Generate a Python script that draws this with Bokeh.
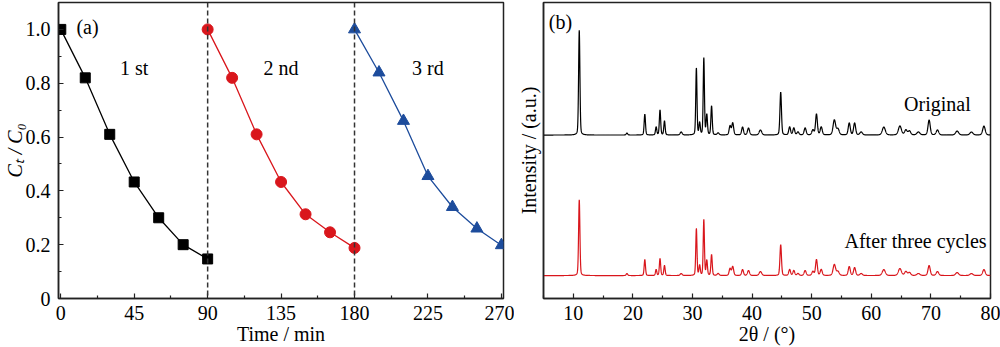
import numpy as np
from bokeh.plotting import figure
from bokeh.layouts import row
from bokeh.models import Range1d, FixedTicker, Label, Span
from bokeh.embed import file_html
from bokeh.resources import INLINE

# ---------------- data: panel (a) ----------------
t1 = [0, 15, 30, 45, 60, 75, 90]
c1 = [1.0, 0.82, 0.61, 0.433, 0.30, 0.20, 0.147]
t2 = [90, 105, 120, 135, 150, 165, 180]
c2 = [1.0, 0.82, 0.61, 0.433, 0.313, 0.246, 0.188]
t3 = [180, 195, 210, 225, 240, 255, 270]
c3 = [1.0, 0.84, 0.66, 0.455, 0.34, 0.26, 0.198]
cycle_bounds = [90, 180]
cycle_names = ["1 st", "2 nd", "3 rd"]
cycle_name_x = [45, 135, 225]
a_xticks = [0, 45, 90, 135, 180, 225, 270]
a_xminor = [22.5, 67.5, 112.5, 157.5, 202.5, 247.5]
a_yticks = [0, 0.2, 0.4, 0.6, 0.8, 1.0]
a_ylabels = ["0", "0.2", "0.4", "0.6", "0.8", "1.0"]
a_yminor = [0.1, 0.3, 0.5, 0.7, 0.9]

# ---------------- data: panel (b) XRD peaks ----------------
peak_pos = [11.0, 19.0, 22.0, 23.9, 24.55, 25.3, 28.1, 30.65, 31.2, 31.9, 32.4, 33.2, 34.3,
            36.3, 36.75, 38.4, 39.4, 41.4, 44.8, 46.3, 47.0, 47.7, 48.9, 50.2, 50.8, 51.6,
            53.8, 54.4, 56.3, 57.2, 58.3, 62.1, 64.8, 65.8, 66.4, 67.9, 69.7, 71.1, 74.4,
            76.8, 78.9]
orig_h = [105, 2, 21, 8, 25, 14, 3, 67, 12, 77, 20, 29, 2,
          9, 12, 8, 7, 5, 43, 8, 7, 3, 7, 5, 21, 8,
          15, 6, 12, 12, 3, 8, 9, 5, 4, 3, 15, 5, 4,
          3, 9]
after_h = [76, 2, 16, 6, 17, 10, 2, 47, 10, 56, 15, 21, 2,
           7, 9, 6, 5, 4, 31, 6, 5, 2, 5, 4, 16, 6,
           11, 4, 9, 8, 2, 6, 7, 4, 3, 2, 10, 4, 3,
           2, 6]
peak_w = [0.13, 0.15, 0.13, 0.13, 0.13, 0.13, 0.2, 0.12, 0.13, 0.12, 0.13, 0.13, 0.2,
          0.18, 0.18, 0.18, 0.2, 0.25, 0.15, 0.18, 0.18, 0.2, 0.2, 0.2, 0.18, 0.2,
          0.25, 0.25, 0.2, 0.2, 0.25, 0.3, 0.3, 0.25, 0.25, 0.3, 0.22, 0.25, 0.3,
          0.3, 0.25]
orig_offset = 164
after_offset = 23
b_xticks = [10, 20, 30, 40, 50, 60, 70, 80]
b_xminor = [5, 15, 25, 35, 45, 55, 65, 75]

FONT = "Liberation Serif"
FS = "20px"
RED = "#d9161c"
BLUE = "#1d4c9c"
AX = "#222222"


def profile(x, pos, h, w, offset):
    y = np.full_like(x, float(offset))
    for p, a, hw in zip(pos, h, w):
        d = (x - p) / hw
        y += a * (0.75 * np.exp(-np.log(2) * d * d) + 0.25 / (1 + d * d))
    return y


def style(p):
    p.xgrid.visible = False
    p.ygrid.visible = False
    p.outline_line_color = AX
    p.outline_line_width = 1.5
    p.background_fill_color = "white"
    p.border_fill_color = "white"
    for ax in (p.xaxis[0], p.yaxis[0]):
        ax.axis_line_color = AX
        ax.axis_line_width = 1.5
        ax.major_tick_in = 5
        ax.major_tick_out = 0
        ax.minor_tick_in = 3
        ax.minor_tick_out = 0
        ax.major_tick_line_color = AX
        ax.minor_tick_line_color = AX
        ax.major_tick_line_width = 1.2
        ax.minor_tick_line_width = 1.2
        ax.major_label_text_font = FONT
        ax.major_label_text_font_size = FS
        ax.major_label_text_color = "black"
        ax.axis_label_text_font = FONT
        ax.axis_label_text_font_size = FS
        ax.axis_label_text_font_style = "normal"
        ax.axis_label_text_color = "black"


def lab(p, text, x, y, style_="normal", align="left", baseline="alphabetic", color="black"):
    p.add_layout(Label(x=x, y=y, text=text, text_font=FONT, text_font_size=FS,
                       text_font_style=style_, text_align=align, text_baseline=baseline,
                       text_color=color))


# ---------------- panel (a) ----------------
pa = figure(width=514, height=347, x_range=Range1d(-1.4, 271.3), y_range=Range1d(0, 1.1),
            output_backend="svg", toolbar_location=None,
            min_border_left=58, min_border_right=11, min_border_top=1, min_border_bottom=49)
style(pa)
pa.xaxis[0].ticker = FixedTicker(ticks=a_xticks, minor_ticks=a_xminor)
pa.yaxis[0].ticker = FixedTicker(ticks=a_yticks, minor_ticks=a_yminor)
pa.yaxis[0].major_label_overrides = {t: s for t, s in zip(a_yticks, a_ylabels)}
pa.xaxis[0].major_label_standoff = 7
pa.yaxis[0].major_label_standoff = 8
pa.xaxis[0].axis_label = "Time / min"
pa.xaxis[0].axis_label_text_line_height = 0.8
pa.xaxis[0].axis_label_standoff = 0
pa.yaxis[0].axis_label = "Cₜ / C₀"
pa.yaxis[0].axis_label_text_font_style = "italic"
pa.yaxis[0].axis_label_standoff = -3

for b in cycle_bounds:
    pa.add_layout(Span(location=b, dimension="height", line_color="#333333",
                       line_dash="5 3", line_width=1.5))

pa.line(t1, c1, line_color="black", line_width=1.3)
pa.scatter(t1, c1, marker="square", size=10, fill_color="black", line_color="black")
pa.line(t2, c2, line_color=RED, line_width=1.3)
pa.scatter(t2, c2, marker="circle", size=11, fill_color=RED, line_color=RED)
pa.line(t3, c3, line_color=BLUE, line_width=1.3)
pa.scatter(t3, c3, marker="triangle", size=12, fill_color=BLUE, line_color=BLUE)

for nx, nm in zip(cycle_name_x, cycle_names):
    lab(pa, nm, nx, 0.855, align="center")
lab(pa, "(a)", 9.6, 1.01)

# ---------------- panel (b) ----------------
pb = figure(width=486, height=347, x_range=Range1d(5, 80), y_range=Range1d(0, 297),
            output_backend="svg", toolbar_location=None,
            min_border_left=29, min_border_right=10, min_border_top=2, min_border_bottom=48)
style(pb)
pb.xaxis[0].ticker = FixedTicker(ticks=b_xticks, minor_ticks=b_xminor)
pb.yaxis[0].ticker = FixedTicker(ticks=[], minor_ticks=[])
pb.yaxis[0].major_label_text_font_size = "0px"
pb.yaxis[0].major_label_standoff = 0
pb.xaxis[0].major_label_standoff = 7
pb.xaxis[0].axis_label = "2θ / (°)"
pb.xaxis[0].axis_label_text_line_height = 0.8
pb.xaxis[0].axis_label_standoff = 0
pb.yaxis[0].axis_label = "Intensity / (a.u.)"
pb.yaxis[0].axis_label_standoff = 4

xx = np.arange(5.0, 80.0001, 0.02)
pb.line(xx, profile(xx, peak_pos, orig_h, peak_w, orig_offset), line_color="black", line_width=1.2)
pb.line(xx, profile(xx, peak_pos, after_h, peak_w, after_offset), line_color=RED, line_width=1.2)

lab(pb, "(b)", 5.9, 277)
lab(pb, "Original", 65.5, 195)
lab(pb, "After three cycles", 55.5, 58)

layout = row(pa, pb)
open("out.html", "w").write(file_html(layout, INLINE))
